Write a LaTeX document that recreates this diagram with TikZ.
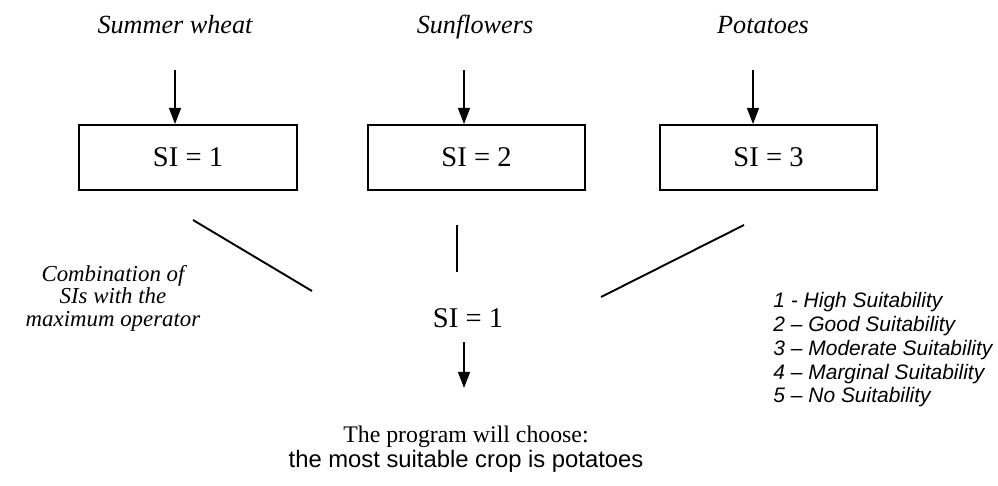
\documentclass[tikz,border=0pt]{standalone}
\usepackage{fontspec}
\setmainfont{Liberation Serif}
\setsansfont{Liberation Sans}
\usetikzlibrary{arrows.meta, positioning}

\begin{document}
\begin{tikzpicture}[
    x=0.42pt, y=-0.42pt,
    crop/.style={font=\fontsize{11}{13}\selectfont\itshape, inner sep=0pt, anchor=base},
    sibox/.style={rectangle, draw, line width=0.8pt, minimum width=91.5pt, minimum height=27.3pt, font=\fontsize{12}{14}\selectfont},
    result/.style={font=\fontsize{12}{14}\selectfont, inner sep=0pt},
    note/.style={font=\fontsize{9.6}{9.4}\selectfont\itshape, align=center, inner sep=0pt},
    legend/.style={font=\sffamily\fontsize{8.8}{10}\selectfont\itshape, align=left, inner sep=0pt},
    choice/.style={font=\fontsize{10}{9.3}\selectfont, align=center, inner sep=0pt},
    arrow/.style={-{Triangle[length=6.8pt, width=5pt]}, line width=0.8pt},
    link/.style={line width=0.8pt},
]
\useasboundingbox (0,0) rectangle (998,485);

% Nodes
\node[crop] (wheat) at (175,33) {Summer wheat};
\node[crop] (sunfl) at (475,33) {Sunflowers};
\node[crop] (potat) at (763,33) {Potatoes};

\node[sibox] (si1) at (188,157.5) {SI = 1};
\node[sibox] (si2) at (476.5,157.5) {SI = 2};
\node[sibox] (si3) at (768.5,157.5) {SI = 3};

\node[result] (simax) at (468,318) {SI = 1};
\node[note] (comb) at (113,298) {Combination of\\SIs with the\\maximum operator};
\node[legend, anchor=north west] (scale) at (773,292) {1 - High Suitability\\2 -- Good Suitability\\3 -- Moderate Suitability\\4 -- Marginal Suitability\\5 -- No Suitability};
\node[choice] (final) at (466,449) {The program will choose:\\\sffamily the most suitable crop is potatoes};

% Arrow starts and line ends
\coordinate (a1) at (175,70);
\coordinate (a2) at (464,70);
\coordinate (a3) at (753,70);
\coordinate (l1a) at (193,220);
\coordinate (l1b) at (312,291);
\coordinate (l2a) at (457,225);
\coordinate (l2b) at (457,272);
\coordinate (l3a) at (744,225);
\coordinate (l3b) at (601,297);
\coordinate (a4) at (464,342);

% Arrows
\draw[arrow] (a1) -- (a1 |- si1.north);
\draw[arrow] (a2) -- (a2 |- si2.north);
\draw[arrow] (a3) -- (a3 |- si3.north);
\draw[arrow] (a4) -- ++(0,46);

% Combination lines
\draw[link] (l1a) -- (l1b);
\draw[link] (l2a) -- (l2b);
\draw[link] (l3a) -- (l3b);

\end{tikzpicture}
\end{document}
